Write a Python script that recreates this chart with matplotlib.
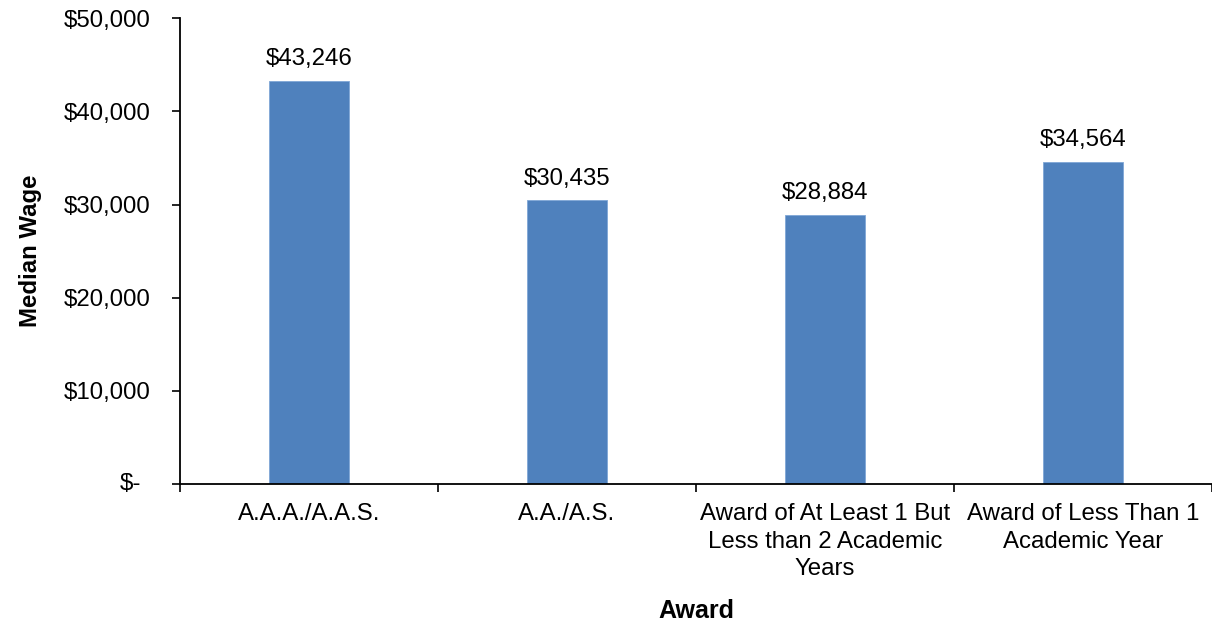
import matplotlib.pyplot as plt
import numpy as np

plt.rcParams['font.family'] = ['Liberation Sans', 'DejaVu Sans']

# data
awards = ['A.A.A./A.A.S.', 'A.A./A.S.',
          'Award of At Least 1 But\nLess than 2 Academic\nYears',
          'Award of Less Than 1\nAcademic Year']
wages = [43246, 30435, 28884, 34564]
y_ticks = [0, 10000, 20000, 30000, 40000, 50000]
y_labels = ['$-', '$10,000', '$20,000', '$30,000', '$40,000', '$50,000']

fig = plt.figure(figsize=(12.12, 6.27), dpi=100)
ax = fig.add_axes([0.1485, 0.228, 0.8515, 0.743])

x = np.arange(len(awards))
bars = ax.bar(x, wages, width=0.31, color='#4F81BD', edgecolor='#7FA6D6', linewidth=0.6)

for xi, v in zip(x, wages):
    ax.annotate('${:,}'.format(v), (xi, v), xytext=(0, 11.5), textcoords='offset points',
                ha='center', va='baseline', fontsize=17.3)

ax.set_xlim(-0.5, len(awards) - 0.5)
ax.set_ylim(0, 50000)

# ticks at the category boundaries, labels at the centres
ax.set_xticks(np.arange(len(awards) + 1) - 0.5)
ax.set_xticklabels([])
ax.set_xticks(x, minor=True)
ax.set_xticklabels(awards, minor=True, fontsize=17.3, linespacing=1.3)
ax.tick_params(axis='x', which='minor', length=0, pad=14)
ax.tick_params(axis='x', which='major', length=6, width=1.2, direction='out')

# accounting format: the zero label "$-" sits further left than the others
ax.set_yticks(y_ticks)
ax.set_yticklabels([''] + y_labels[1:], fontsize=17.3)
ax.tick_params(axis='y', length=6, width=1.2, direction='out', pad=15)
ax.annotate(y_labels[0], xy=(0, y_ticks[0]), xycoords=('axes fraction', 'data'),
            xytext=(-28, 0), textcoords='offset points', ha='right', va='center',
            fontsize=17.3)

ax.spines['top'].set_visible(False)
ax.spines['right'].set_visible(False)
ax.spines['left'].set_linewidth(1.3)
ax.spines['bottom'].set_linewidth(1.3)

ax.set_ylabel('Median Wage', fontsize=17.3, fontweight='bold', labelpad=16)
ax.set_xlabel('Award', fontsize=18, fontweight='bold', labelpad=14)

fig.savefig('out.png', dpi=100)
